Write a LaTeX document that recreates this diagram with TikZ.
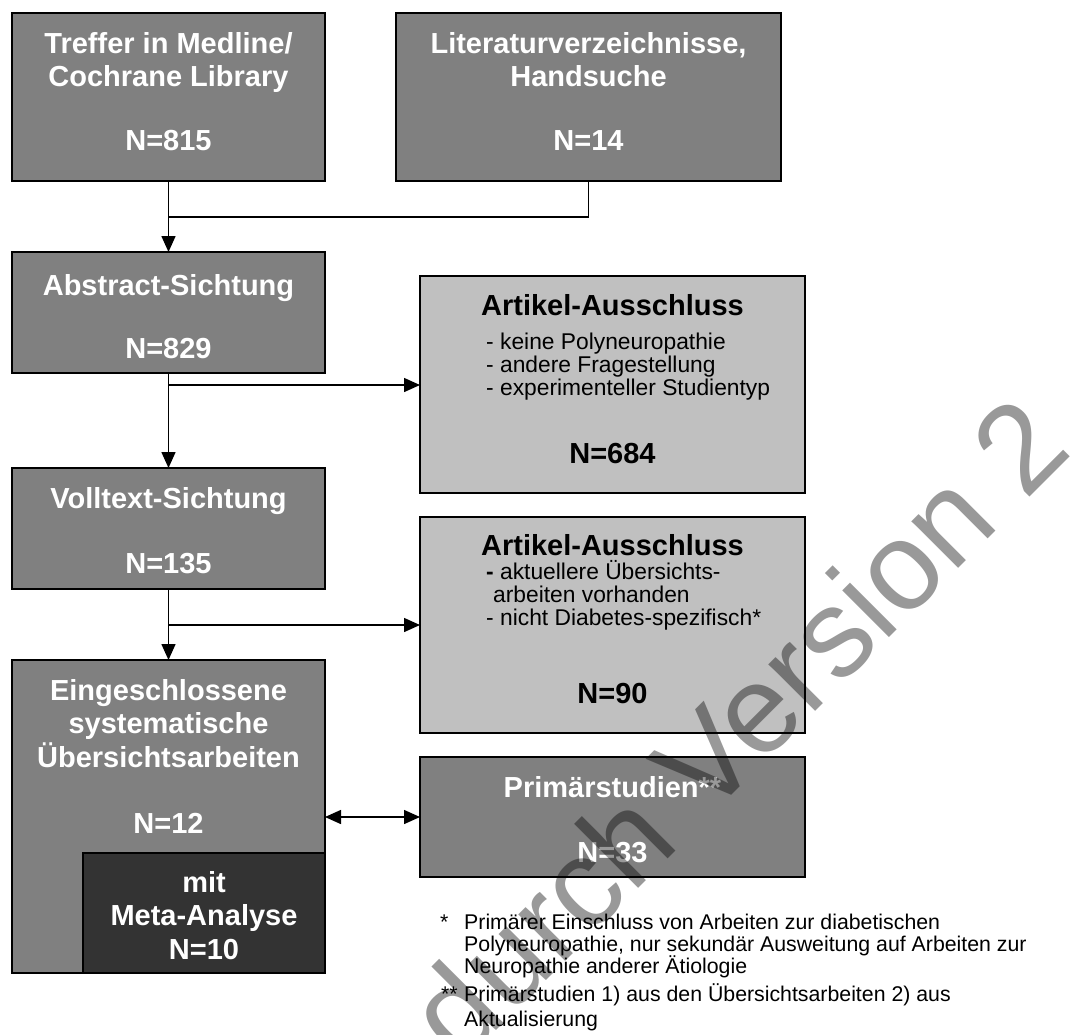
\documentclass[tikz,border=0pt]{standalone}
\usepackage{fontspec}
\setmainfont{Liberation Sans}
\usetikzlibrary{arrows.meta}
\definecolor{boxdark}{HTML}{808080}
\definecolor{boxlight}{HTML}{C0C0C0}
\definecolor{boxdeep}{HTML}{333333}
\tikzset{
  box/.style={draw=black, line width=2pt, inner sep=0pt, outer sep=0pt, anchor=north west},
  darkbox/.style={box, fill=boxdark},
  lightbox/.style={box, fill=boxlight},
  deepbox/.style={box, fill=boxdeep},
  btxt/.style={font=\fontsize{29}{33}\selectfont\bfseries, inner sep=0pt, anchor=base},
  wtxt/.style={btxt, text=white},
  ktxt/.style={btxt, text=black},
  rtxt/.style={font=\fontsize{22.8}{23}\selectfont, inner sep=0pt, anchor=base west},
  ftxt/.style={font=\fontsize{21.3}{23}\selectfont, inner sep=0pt, anchor=base west},
  conn/.style={line width=1.5pt, draw=black},
  arr/.style={conn, -{Triangle[length=16pt,width=14pt]}},
  darr/.style={conn, {Triangle[length=16pt,width=14pt]}-{Triangle[length=16pt,width=14pt]}},
  wmark/.style={font=\fontsize{125}{125}\selectfont, text=black, text opacity=0.4, inner sep=0pt, anchor=base, rotate=45}
}
\begin{document}
\begin{tikzpicture}[x=1pt,y=-1pt]
\useasboundingbox (0,0) rectangle (1074,1034);
\fill[white] (0,0) rectangle (1074,1034);
% boxes
\node[darkbox, minimum width=313pt, minimum height=168pt] (treffer) at (12,13) {};
\node[darkbox, minimum width=385pt, minimum height=168pt] (lit) at (396,13) {};
\node[darkbox, minimum width=313pt, minimum height=121pt] (abstract) at (12,252) {};
\node[darkbox, minimum width=313pt, minimum height=121pt] (volltext) at (12,468) {};
\node[darkbox, minimum width=313pt, minimum height=313pt] (einge) at (12,660) {};
\node[deepbox, minimum width=242pt, minimum height=120pt] (meta) at (83,853) {};
\node[lightbox, minimum width=385pt, minimum height=217pt] (aus1) at (420,276) {};
\node[lightbox, minimum width=385pt, minimum height=216pt] (aus2) at (420,517) {};
\node[darkbox, minimum width=385pt, minimum height=120pt] (prim) at (420,757) {};
% texts
\node[wtxt] (t1a) at (168.5,53) {Treffer in Medline/};
\node[wtxt] (t1b) at (168.5,86) {Cochrane Library};
\node[wtxt] (t1c) at (168.5,150) {N=815};
\node[wtxt] (t2a) at (588.5,53) {Literaturverzeichnisse,};
\node[wtxt] (t2b) at (588.5,86) {Handsuche};
\node[wtxt] (t2c) at (588.5,150) {N=14};
\node[wtxt] (t3a) at (168.5,295) {Abstract-Sichtung};
\node[wtxt] (t3b) at (168.5,358) {N=829};
\node[wtxt] (t4a) at (168.5,508) {Volltext-Sichtung};
\node[wtxt] (t4b) at (168.5,573) {N=135};
\node[wtxt] (t5a) at (168.5,700) {Eingeschlossene};
\node[wtxt] (t5b) at (168.5,733) {systematische};
\node[wtxt] (t5c) at (168.5,767) {Übersichtsarbeiten};
\node[wtxt] (t5d) at (168.5,833) {N=12};
\node[wtxt] (t6a) at (204,892) {mit};
\node[wtxt] (t6b) at (204,925) {Meta-Analyse};
\node[wtxt] (t6c) at (204,959) {N=10};
\node[ktxt] (t7a) at (612.5,315) {Artikel-Ausschluss};
\node[rtxt] (t7b) at (486,349) {- keine Polyneuropathie};
\node[rtxt] (t7c) at (486,372) {- andere Fragestellung};
\node[rtxt] (t7d) at (486,395) {- experimenteller Studientyp};
\node[ktxt] (t7e) at (612.5,463) {N=684};
\node[ktxt] (t8a) at (612.5,555) {Artikel-Ausschluss};
\node[rtxt] (t8b) at (486,579) {{\bfseries -} aktuellere Übersichts-};
\node[rtxt] (t8c) at (493,602) {arbeiten vorhanden};
\node[rtxt] (t8d) at (486,625) {- nicht Diabetes-spezifisch*};
\node[ktxt] (t8e) at (612.5,703) {N=90};
\node[wtxt] (t9a) at (612.5,797) {Primärstudien**};
\node[wtxt] (t9b) at (612.5,862) {N=33};
% footnotes
\node[ftxt] (f1s) at (440,929) {*};
\node[ftxt] (f1a) at (464,929) {Primärer Einschluss von Arbeiten zur diabetischen};
\node[ftxt] (f1b) at (464,951) {Polyneuropathie, nur sekundär Ausweitung auf Arbeiten zur};
\node[ftxt] (f1c) at (464,973) {Neuropathie anderer Ätiologie};
\node[ftxt] (f2s) at (441,1001) {**};
\node[ftxt] (f2a) at (464,1001) {Primärstudien 1) aus den Übersichtsarbeiten 2) aus};
\node[ftxt] (f2b) at (464,1026) {Aktualisierung};
% connectors
\coordinate (j1) at (168.5,217);
\draw[conn] (lit.south) |- (j1);
\draw[arr] (treffer.south) -- (abstract.north);
\draw[arr] (abstract.south) -- (volltext.north);
\coordinate (b1) at (168.5,385);
\draw[arr] (b1) -- (b1 -| aus1.west);
\draw[arr] (volltext.south) -- (einge.north);
\coordinate (b2) at (168.5,625);
\draw[arr] (b2) -- (b2 -| aus2.west);
\draw[darr] (prim.west -| einge.east) -- (prim.west);
% watermark
\node[wmark] (wm) at (768,759) {durch Version 2};
\end{tikzpicture}
\end{document}
